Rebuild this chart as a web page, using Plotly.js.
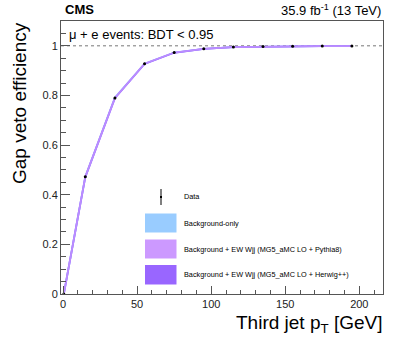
<!DOCTYPE html>
<html>
<head>
<meta charset="utf-8">
<script src="https://cdn.plot.ly/plotly-3.0.1.min.js"></script>
<style>html,body{margin:0;padding:0;background:#fff;}#chart{width:399px;height:347px;}</style>
</head>
<body>
<div id="chart"></div>
<script>
// Bin centres of third-jet pT [GeV]
const ptValues = [0.5, 15, 35, 55, 75, 95, 115, 135, 155, 175, 195];
// Gap veto efficiency, data
const dataEff = [0.0, 0.472, 0.790, 0.928, 0.973, 0.988, 0.995, 0.997, 0.998, 0.999, 0.999];
const dataErr = [0.0, 0.004, 0.004, 0.003, 0.002, 0.001, 0.001, 0.001, 0.001, 0.001, 0.001];
// Predictions
const bkgOnly = [0.0, 0.472, 0.792, 0.928, 0.973, 0.988, 0.995, 0.997, 0.998, 0.999, 0.999];
const bkgPythia = [0.0, 0.472, 0.790, 0.928, 0.973, 0.988, 0.995, 0.997, 0.998, 0.999, 0.999];
const bkgHerwig = [0.0, 0.471, 0.789, 0.927, 0.972, 0.988, 0.995, 0.997, 0.998, 0.999, 0.999];
const legendLabels = ["Data", "Background-only", "Background + EW Wjj (MG5_aMC LO + Pythia8)", "Background + EW Wjj (MG5_aMC LO + Herwig++)"];
const xTicks = [0, 50, 100, 150, 200];
const yTicks = [0, 0.2, 0.4, 0.6, 0.8, 1];

const font = "Liberation Sans, Arial, sans-serif";
const traces = [
  {x: ptValues, y: bkgOnly, mode: 'lines', line: {color: '#99ccff', width: 1.8}, showlegend: false, hoverinfo: 'skip'},
  {x: ptValues, y: bkgHerwig, mode: 'lines', line: {color: '#9966ff', width: 1.8}, showlegend: false, hoverinfo: 'skip'},
  {x: ptValues, y: bkgPythia, mode: 'lines', line: {color: '#bb8cff', width: 1.8}, showlegend: false, hoverinfo: 'skip'},
  {x: ptValues, y: dataEff, mode: 'markers', marker: {color: '#000', size: 3},
   error_y: {type: 'data', array: dataErr, visible: true, color: '#000', thickness: 1, width: 0},
   showlegend: false}
];

const px = v => (v - 61) / 322;
const py = v => (294 - v) / 273;

const shapes = [
  {type: 'line', xref: 'paper', yref: 'y', x0: 0, x1: 1, y0: 1, y1: 1, line: {color: '#777', width: 1, dash: 'dot'}, layer: 'below'},
  // legend boxes
  {type: 'rect', xref: 'paper', yref: 'paper', x0: px(145), x1: px(176.5), y0: py(232.5), y1: py(213.5), fillcolor: '#99ccff', line: {width: 0}},
  {type: 'rect', xref: 'paper', yref: 'paper', x0: px(145), x1: px(176.5), y0: py(258.5), y1: py(239.5), fillcolor: '#cc99ff', line: {width: 0}},
  {type: 'rect', xref: 'paper', yref: 'paper', x0: px(145), x1: px(176.5), y0: py(284.5), y1: py(265), fillcolor: '#9966ff', line: {width: 0}},
  // legend data marker
  {type: 'line', xref: 'paper', yref: 'paper', x0: px(161), x1: px(161), y0: py(205), y1: py(189), line: {color: '#000', width: 1}},
  {type: 'rect', xref: 'paper', yref: 'paper', x0: px(160), x1: px(162), y0: py(198), y1: py(196), fillcolor: '#000', line: {width: 0}}
];

const legY = [197, 223, 249, 274.5];
const annotations = [
  {text: '<b>CMS</b>', xref: 'paper', yref: 'paper', x: 0.005, y: 1, xanchor: 'left', yanchor: 'bottom', yshift: 2, showarrow: false, font: {family: font, size: 13, color: '#000'}},
  {text: '35.9 fb<sup>-1</sup> (13 TeV)', xref: 'paper', yref: 'paper', x: 1, y: 1, xanchor: 'right', yanchor: 'bottom', yshift: 1, showarrow: false, font: {family: font, size: 13, color: '#000'}},
  {text: 'μ + e events: BDT < 0.95', xref: 'paper', yref: 'paper', x: px(67), y: py(34), xanchor: 'left', yanchor: 'middle', showarrow: false, font: {family: font, size: 13, color: '#000'}},
  {text: 'Gap veto efficiency', xref: 'paper', yref: 'paper', x: px(19), y: py(20), xanchor: 'center', yanchor: 'top', textangle: -90, showarrow: false, font: {family: font, size: 19, color: '#000'}},
  {text: 'Third jet p<sub>T</sub> [GeV]', xref: 'paper', yref: 'paper', x: px(384), y: py(310), xanchor: 'right', yanchor: 'top', showarrow: false, font: {family: font, size: 19, color: '#000'}}
];
legendLabels.forEach((t, i) => {
  annotations.push({text: t, xref: 'paper', yref: 'paper', x: px(182), y: py(legY[i]), xanchor: 'left', yanchor: 'middle', showarrow: false, font: {family: font, size: 7.3, color: '#000'}});
});

const layout = {
  width: 399, height: 347,
  margin: {l: 61, r: 16, t: 21, b: 53},
  paper_bgcolor: '#fff', plot_bgcolor: '#fff',
  font: {family: font, color: '#000'},
  xaxis: {
    range: [-1.4, 216], tickvals: xTicks, ticktext: xTicks.map(String),
    ticks: 'inside', ticklen: 8, tickcolor: '#555', showline: true, mirror: true, linecolor: '#555', linewidth: 1,
    showgrid: false, zeroline: false, tickfont: {size: 11, family: font, color: '#222'},
    minor: {dtick: 10, tick0: 0, ticks: 'inside', ticklen: 4, tickcolor: '#555', showgrid: false}
  },
  yaxis: {
    range: [0, 1.1], tickvals: yTicks, ticktext: ['0', '0.2', '0.4', '0.6', '0.8', '1'],
    ticks: 'inside', ticklen: 9, tickcolor: '#555', showline: true, mirror: true, linecolor: '#555', linewidth: 1,
    showgrid: false, zeroline: false, tickfont: {size: 11, family: font, color: '#222'},
    minor: {dtick: 0.05, tick0: 0, ticks: 'inside', ticklen: 5, tickcolor: '#555', showgrid: false}
  },
  shapes: shapes,
  annotations: annotations,
  showlegend: false
};

Plotly.newPlot('chart', traces, layout, {displayModeBar: false, staticPlot: true});
</script>
</body>
</html>
